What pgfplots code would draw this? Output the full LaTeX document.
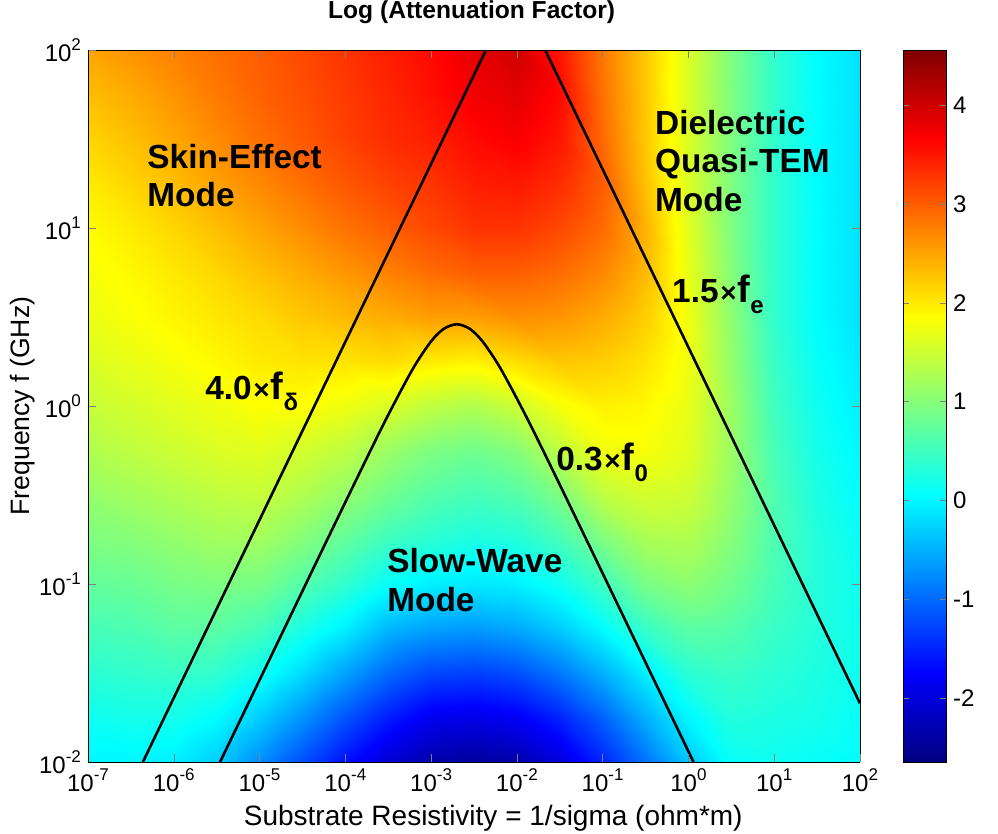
\documentclass[border=0pt]{standalone}
\usepackage{fontspec}
\setmainfont{Liberation Sans}
\usepackage{pgfplots}
\pgfplotsset{compat=1.18}
\newcommand{\tp}[1]{10\raisebox{0.85ex}{\fontsize{8.5}{8.5}\selectfont #1}}
\newcommand{\lblfont}{\fontsize{16.7}{19.5}\selectfont\bfseries}
\newcommand{\flab}[2]{#1\hspace{0.8pt}{\fontsize{14}{14}\selectfont ×}\hspace{0.6pt}{\fontsize{19}{19}\selectfont f}\raisebox{-5.5pt}{\fontsize{12}{12}\selectfont #2}}
\begin{document}
\begin{tikzpicture}
\begin{axis}[
  at={(0,0)}, anchor=south west,
  scale only axis, width=386pt, height=356pt,
  view={0}{90},
  xmin=-7, xmax=2, ymin=-2, ymax=2,
  xtick={-7,-6,-5,-4,-3,-2,-1,0,1,2},
  xticklabels={\tp{-7},\tp{-6},\tp{-5},\tp{-4},\tp{-3},\tp{-2},\tp{-1},\tp{0},\tp{1},\tp{2}},
  ytick={-2,-1,0,1,2},
  yticklabels={\tp{-2},\tp{-1},\tp{0},\tp{1},\tp{2}},
  ztick=\empty,
  tick label style={font=\fontsize{12}{12}\selectfont},
  tick align=inside,
  major tick length=4pt,
  axis on top,
  colormap/jet,
  point meta min=-2.65, point meta max=4.56,
  colorbar,
  colorbar/width=21.5pt,
  colorbar style={
    scale only axis,
    width=21.5pt,
    height=356pt,
    at={(parent axis.north east)}, anchor=north west, xshift=13pt,
    ytick={-2,-1,0,1,2,3,4},
    yticklabels={-2,-1,0,1,2,3,4},
    yticklabel style={font=\fontsize{12}{12}\selectfont},
    tick align=inside,
    major tick length=3pt,
    ytick pos=both,
    yticklabel pos=right,
  },
  title={Log (Attenuation Factor)},
  title style={font=\fontsize{12.3}{12.5}\selectfont\bfseries, at={(axis description cs:0.497,1)}, anchor=base, yshift=9.5pt},
  xlabel={Substrate Resistivity = 1/sigma (ohm*m)},
  xlabel style={font=\fontsize{14}{14}\selectfont, at={(axis description cs:0.525,0)}, anchor=base, yshift=-32pt},
  ylabel={Frequency f (GHz)},
  ylabel style={font=\fontsize{13.3}{14}\selectfont, at={(axis description cs:-0.0764,0.5)}, anchor=base, rotate=0},
]
\addplot3[surf, shader=interp, mesh/cols=19] table[row sep=\\] {
x y z\\
-7 -2 0.00\\ -6.5 -2 0.00\\ -6 -2 -0.05\\ -5.5 -2 -0.30\\ -5 -2 -0.75\\ -4.5 -2 -1.20\\ -4 -2 -1.65\\ -3.5 -2 -2.05\\ -3 -2 -2.35\\ -2.5 -2 -2.45\\ -2 -2 -2.35\\ -1.5 -2 -2.00\\ -1 -2 -1.50\\ -0.5 -2 -0.95\\ 0 -2 -0.35\\ 0.5 -2 0.10\\ 1 -2 0.15\\ 1.5 -2 0.10\\ 2 -2 0.05\\
-7 -1.75 0.15\\ -6.5 -1.75 0.20\\ -6 -1.75 0.20\\ -5.5 -1.75 0.05\\ -5 -1.75 -0.30\\ -4.5 -1.75 -0.70\\ -4 -1.75 -1.15\\ -3.5 -1.75 -1.55\\ -3 -1.75 -1.85\\ -2.5 -1.75 -1.90\\ -2 -1.75 -1.80\\ -1.5 -1.75 -1.50\\ -1 -1.75 -1.05\\ -0.5 -1.75 -0.50\\ 0 -1.75 0.00\\ 0.5 -1.75 0.30\\ 1 -1.75 0.25\\ 1.5 -1.75 0.20\\ 2 -1.75 0.10\\
-7 -1.5 0.35\\ -6.5 -1.5 0.40\\ -6 -1.5 0.45\\ -5.5 -1.5 0.40\\ -5 -1.5 0.15\\ -4.5 -1.5 -0.20\\ -4 -1.5 -0.60\\ -3.5 -1.5 -1.00\\ -3 -1.5 -1.25\\ -2.5 -1.5 -1.30\\ -2 -1.5 -1.20\\ -1.5 -1.5 -0.90\\ -1 -1.5 -0.50\\ -0.5 -1.5 -0.05\\ 0 -1.5 0.35\\ 0.5 -1.5 0.45\\ 1 -1.5 0.35\\ 1.5 -1.5 0.25\\ 2 -1.5 0.15\\
-7 -1.25 0.55\\ -6.5 -1.25 0.60\\ -6 -1.25 0.70\\ -5.5 -1.25 0.70\\ -5 -1.25 0.55\\ -4.5 -1.25 0.25\\ -4 -1.25 -0.05\\ -3.5 -1.25 -0.45\\ -3 -1.25 -0.60\\ -2.5 -1.25 -0.65\\ -2 -1.25 -0.55\\ -1.5 -1.25 -0.30\\ -1 -1.25 0.05\\ -0.5 -1.25 0.45\\ 0 -1.25 0.70\\ 0.5 -1.25 0.65\\ 1 -1.25 0.45\\ 1.5 -1.25 0.30\\ 2 -1.25 0.15\\
-7 -1 0.75\\ -6.5 -1 0.80\\ -6 -1 0.90\\ -5.5 -1 0.95\\ -5 -1 0.90\\ -4.5 -1 0.65\\ -4 -1 0.40\\ -3.5 -1 0.10\\ -3 -1 -0.05\\ -2.5 -1 -0.10\\ -2 -1 -0.05\\ -1.5 -1 0.15\\ -1 -1 0.50\\ -0.5 -1 0.90\\ 0 -1 1.05\\ 0.5 -1 0.85\\ 1 -1 0.55\\ 1.5 -1 0.30\\ 2 -1 0.15\\
-7 -0.75 0.95\\ -6.5 -0.75 1.00\\ -6 -0.75 1.10\\ -5.5 -0.75 1.20\\ -5 -0.75 1.20\\ -4.5 -0.75 1.00\\ -4 -0.75 0.75\\ -3.5 -0.75 0.50\\ -3 -0.75 0.35\\ -2.5 -0.75 0.25\\ -2 -0.75 0.30\\ -1.5 -0.75 0.55\\ -1 -0.75 0.95\\ -0.5 -0.75 1.25\\ 0 -0.75 1.30\\ 0.5 -0.75 1.00\\ 1 -0.75 0.60\\ 1.5 -0.75 0.30\\ 2 -0.75 0.10\\
-7 -0.5 1.10\\ -6.5 -0.5 1.20\\ -6 -0.5 1.30\\ -5.5 -0.5 1.40\\ -5 -0.5 1.45\\ -4.5 -0.5 1.30\\ -4 -0.5 1.10\\ -3.5 -0.5 0.85\\ -3 -0.5 0.65\\ -2.5 -0.5 0.55\\ -2 -0.5 0.65\\ -1.5 -0.5 0.95\\ -1 -0.5 1.40\\ -0.5 -0.5 1.55\\ 0 -0.5 1.50\\ 0.5 -0.5 1.10\\ 1 -0.5 0.60\\ 1.5 -0.5 0.25\\ 2 -0.5 0.05\\
-7 -0.25 1.30\\ -6.5 -0.25 1.40\\ -6 -0.25 1.50\\ -5.5 -0.25 1.60\\ -5 -0.25 1.65\\ -4.5 -0.25 1.55\\ -4 -0.25 1.40\\ -3.5 -0.25 1.15\\ -3 -0.25 0.95\\ -2.5 -0.25 0.85\\ -2 -0.25 1.00\\ -1.5 -0.25 1.40\\ -1 -0.25 1.75\\ -0.5 -0.25 1.80\\ 0 -0.25 1.65\\ 0.5 -0.25 1.15\\ 1 -0.25 0.55\\ 1.5 -0.25 0.20\\ 2 -0.25 0.00\\
-7 0 1.45\\ -6.5 0 1.55\\ -6 0 1.65\\ -5.5 0 1.75\\ -5 0 1.85\\ -4.5 0 1.85\\ -4 0 1.75\\ -3.5 0 1.60\\ -3 0 1.40\\ -2.5 0 1.30\\ -2 0 1.50\\ -1.5 0 1.80\\ -1 0 1.95\\ -0.5 0 1.90\\ 0 0 1.70\\ 0.5 0 1.15\\ 1 0 0.50\\ 1.5 0 0.15\\ 2 0 -0.05\\
-7 0.25 1.60\\ -6.5 0.25 1.70\\ -6 0.25 1.80\\ -5.5 0.25 1.90\\ -5 0.25 2.00\\ -4.5 0.25 2.05\\ -4 0.25 2.05\\ -3.5 0.25 2.10\\ -3 0.25 2.00\\ -2.5 0.25 1.95\\ -2 0.25 2.10\\ -1.5 0.25 2.25\\ -1 0.25 2.20\\ -0.5 0.25 2.05\\ 0 0.25 1.75\\ 0.5 0.25 1.10\\ 1 0.25 0.45\\ 1.5 0.25 0.10\\ 2 0.25 -0.10\\
-7 0.5 1.72\\ -6.5 0.5 1.82\\ -6 0.5 1.92\\ -5.5 0.5 2.02\\ -5 0.5 2.12\\ -4.5 0.5 2.25\\ -4 0.5 2.35\\ -3.5 0.5 2.45\\ -3 0.5 2.55\\ -2.5 0.5 2.55\\ -2 0.5 2.65\\ -1.5 0.5 2.60\\ -1 0.5 2.45\\ -0.5 0.5 2.20\\ 0 0.5 1.75\\ 0.5 0.5 1.05\\ 1 0.5 0.40\\ 1.5 0.5 0.05\\ 2 0.5 -0.15\\
-7 0.75 1.80\\ -6.5 0.75 1.90\\ -6 0.75 2.02\\ -5.5 0.75 2.15\\ -5 0.75 2.30\\ -4.5 0.75 2.45\\ -4 0.75 2.60\\ -3.5 0.75 2.75\\ -3 0.75 2.90\\ -2.5 0.75 3.00\\ -2 0.75 3.00\\ -1.5 0.75 2.90\\ -1 0.75 2.70\\ -0.5 0.75 2.35\\ 0 0.75 1.70\\ 0.5 0.75 1.00\\ 1 0.75 0.40\\ 1.5 0.75 0.05\\ 2 0.75 -0.15\\
-7 1 1.88\\ -6.5 1 2.00\\ -6 1 2.15\\ -5.5 1 2.32\\ -5 1 2.50\\ -4.5 1 2.67\\ -4 1 2.85\\ -3.5 1 3.00\\ -3 1 3.15\\ -2.5 1 3.30\\ -2 1 3.30\\ -1.5 1 3.15\\ -1 1 2.90\\ -0.5 1 2.40\\ 0 1 1.65\\ 0.5 1 0.95\\ 1 1 0.40\\ 1.5 1 0.05\\ 2 1 -0.15\\
-7 1.25 2.00\\ -6.5 1.25 2.15\\ -6 1.25 2.32\\ -5.5 1.25 2.52\\ -5 1.25 2.70\\ -4.5 1.25 2.88\\ -4 1.25 3.05\\ -3.5 1.25 3.20\\ -3 1.25 3.30\\ -2.5 1.25 3.45\\ -2 1.25 3.50\\ -1.5 1.25 3.35\\ -1 1.25 3.00\\ -0.5 1.25 2.30\\ 0 1.25 1.60\\ 0.5 1.25 0.95\\ 1 1.25 0.40\\ 1.5 1.25 0.05\\ 2 1.25 -0.15\\
-7 1.5 2.15\\ -6.5 1.5 2.30\\ -6 1.5 2.48\\ -5.5 1.5 2.68\\ -5 1.5 2.87\\ -4.5 1.5 3.03\\ -4 1.5 3.20\\ -3.5 1.5 3.35\\ -3 1.5 3.45\\ -2.5 1.5 3.60\\ -2 1.5 3.70\\ -1.5 1.5 3.50\\ -1 1.5 2.90\\ -0.5 1.5 2.25\\ 0 1.5 1.60\\ 0.5 1.5 0.95\\ 1 1.5 0.40\\ 1.5 1.5 0.05\\ 2 1.5 -0.15\\
-7 1.75 2.32\\ -6.5 1.75 2.45\\ -6 1.75 2.62\\ -5.5 1.75 2.80\\ -5 1.75 2.97\\ -4.5 1.75 3.10\\ -4 1.75 3.25\\ -3.5 1.75 3.40\\ -3 1.75 3.55\\ -2.5 1.75 3.75\\ -2 1.75 3.85\\ -1.5 1.75 3.60\\ -1 1.75 2.85\\ -0.5 1.75 2.25\\ 0 1.75 1.60\\ 0.5 1.75 0.95\\ 1 1.75 0.40\\ 1.5 1.75 0.05\\ 2 1.75 -0.15\\
-7 2 2.50\\ -6.5 2 2.62\\ -6 2 2.75\\ -5.5 2 2.88\\ -5 2 3.00\\ -4.5 2 3.15\\ -4 2 3.30\\ -3.5 2 3.45\\ -3 2 3.60\\ -2.5 2 3.85\\ -2 2 4.00\\ -1.5 2 3.50\\ -1 2 2.80\\ -0.5 2 2.25\\ 0 2 1.60\\ 0.5 2 0.95\\ 1 2 0.40\\ 1.5 2 0.05\\ 2 2 -0.15\\
};
\addplot3[black, line width=1.3pt] coordinates {(-6.36,-2,0) (-2.36,2,0)};
\addplot3[black, line width=1.3pt] coordinates {(-1.67,2,0) (2,-1.67,0)};
\addplot3[black, line width=1.3pt, smooth] coordinates {
(-5.46,-2,0) (-5.2,-1.74,0) (-4.7,-1.24,0) (-4.2,-0.74,0) (-3.7,-0.244,0) (-3.45,-0.004,0)
(-3.2,0.219,0) (-3.0,0.363,0) (-2.85,0.434,0) (-2.7,0.459,0) (-2.55,0.434,0) (-2.4,0.363,0)
(-2.2,0.219,0) (-1.95,-0.004,0) (-1.7,-0.244,0) (-1.2,-0.74,0) (-0.7,-1.24,0) (-0.2,-1.74,0) (0.06,-2,0)};
\node[anchor=base west, font=\lblfont, inner sep=0pt] at (axis cs:-6.312,1.337,0) {Skin-Effect};
\node[anchor=base west, font=\lblfont, inner sep=0pt] at (axis cs:-6.312,1.118,0) {Mode};
\node[anchor=base west, font=\lblfont, inner sep=0pt] at (axis cs:-0.392,1.528,0) {Dielectric};
\node[anchor=base west, font=\lblfont, inner sep=0pt] at (axis cs:-0.392,1.309,0) {Quasi-TEM};
\node[anchor=base west, font=\lblfont, inner sep=0pt] at (axis cs:-0.392,1.090,0) {Mode};
\node[anchor=base west, font=\lblfont, inner sep=0pt] at (axis cs:-3.515,-0.938,0) {Slow-Wave};
\node[anchor=base west, font=\lblfont, inner sep=0pt] at (axis cs:-3.515,-1.157,0) {Mode};
\node[anchor=base west, font=\lblfont, inner sep=0pt] at (axis cs:-5.636,0.034,0) {\flab{4.0}{δ}};
\node[anchor=base west, font=\lblfont, inner sep=0pt] at (axis cs:-1.545,-0.360,0) {\flab{0.3}{0}};
\node[anchor=base west, font=\lblfont, inner sep=0pt] at (axis cs:-0.193,0.579,0) {\flab{1.5}{e}};
\end{axis}
\pgfresetboundingbox
\path[use as bounding box] (-44pt,-36pt) rectangle (455pt,381pt);
\end{tikzpicture}
\end{document}
